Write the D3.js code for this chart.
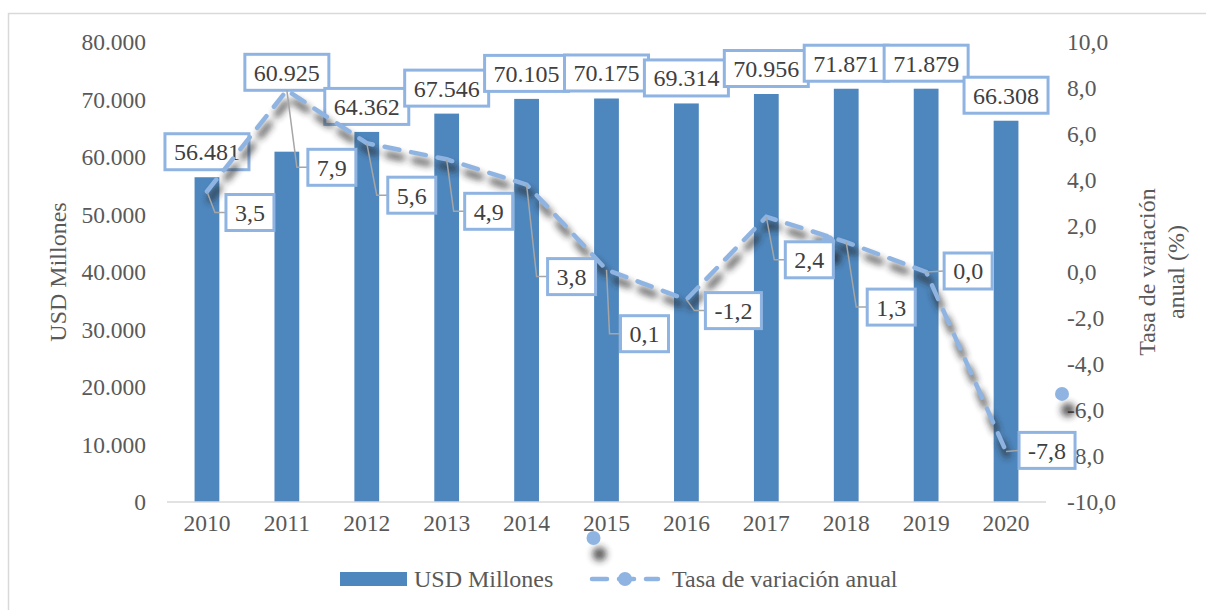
<!DOCTYPE html>
<html>
<head>
<meta charset="utf-8">
<script src="https://cdn.jsdelivr.net/npm/d3@7"></script>
<style>
  body { margin: 0; background: #fff; }
  svg { display: block; }
  svg text { font-family: "Liberation Serif", serif; }
</style>
</head>
<body>
<svg id="chart" width="1206" height="610" font-family="Liberation Serif, serif"></svg>
<script>
"use strict";
const years = ['2010', '2011', '2012', '2013', '2014', '2015', '2016', '2017', '2018', '2019', '2020'];
const usdMillones = [56481, 60925, 64362, 67546, 70105, 70175, 69314, 70956, 71871, 71879, 66308];
const tasaVariacion = [3.5, 7.9, 5.6, 4.9, 3.8, 0.1, -1.2, 2.4, 1.3, 0.0, -7.8];
const usdTicks = [0, 10000, 20000, 30000, 40000, 50000, 60000, 70000, 80000];
const tasaTicks = [-10, -8, -6, -4, -2, 0, 2, 4, 6, 8, 10];

// where Excel dropped the % labels (offset of box from its point)
const tasaLabelDy = [21, 77, 52, 52, 92, 64, 11, 43, 65, -1, -1];
const tasaLabelGap = [19, 21, 21, 18, 21, 14, 19, 19, 21, 18, 13];

const loc = d3.formatLocale({decimal: ',', thousands: '.', grouping: [3], currency: ['', ''], minus: '-'});
const fmtUsd = loc.format(',.0f');
const fmtPct = loc.format('.1f');

const blue = '#4e87be';
const lightBlue = '#8fb4e2';
const grey = '#595959';
const serif = 'Liberation Serif, serif';

const svg = d3.select('#chart');

const defs = svg.append('defs');
defs.append('filter').attr('id', 'blur')
    .attr('filterUnits', 'userSpaceOnUse')
    .attr('x', 0).attr('y', 0).attr('width', 1206).attr('height', 610)
    .append('feGaussianBlur').attr('stdDeviation', 3.5);

// outer frame
svg.append('rect')
    .attr('x', 8.5).attr('y', 13.5).attr('width', 1220).attr('height', 620)
    .attr('fill', 'none').attr('stroke', '#d9d9d9').attr('stroke-width', 1.5);

const x = d3.scaleBand().domain(years).range([167, 1046]).paddingInner(0.69).paddingOuter(0.345);
const yL = d3.scaleLinear().domain([0, 80000]).range([502, 42]);
const yR = d3.scaleLinear().domain([-10, 10]).range([502, 42]);
const cx = (d, i) => x(years[i]) + x.bandwidth() / 2;

// axes
const axL = svg.append('g').attr('transform', 'translate(150,0)')
    .call(d3.axisLeft(yL).tickValues(usdTicks).tickFormat(fmtUsd).tickSize(0).tickPadding(4));
const axR = svg.append('g').attr('transform', 'translate(1063,0)')
    .call(d3.axisRight(yR).tickValues(tasaTicks).tickFormat(fmtPct).tickSize(0).tickPadding(4));
const axB = svg.append('g').attr('transform', 'translate(0,502)')
    .call(d3.axisBottom(x).tickSize(0).tickPadding(12));
[axL, axR, axB].forEach(a => {
    a.attr('font-family', serif).attr('font-size', 23.5);
    a.select('.domain').remove();
    a.selectAll('text').attr('fill', grey);
});

// bars
svg.selectAll('rect.bar')
    .data(usdMillones)
    .enter()
    .append('rect')
    .attr('class', 'bar')
    .attr('x', (d, i) => x(years[i]))
    .attr('y', d => yL(d))
    .attr('width', x.bandwidth())
    .attr('height', d => yL(0) - yL(d))
    .attr('fill', blue);

svg.append('line')
    .attr('x1', 167).attr('x2', 1046).attr('y1', yL(0)).attr('y2', yL(0))
    .attr('stroke', '#d9d9d9').attr('stroke-width', 1.5);

// axis titles
svg.append('text')
    .attr('transform', 'translate(58,' + yL(40000) + ') rotate(-90)')
    .attr('text-anchor', 'middle').attr('dy', '0.35em')
    .attr('font-family', serif).attr('font-size', 24).attr('fill', grey)
    .text('USD Millones');
const rt = svg.append('text')
    .attr('transform', 'translate(1162,' + yR(0) + ') rotate(-90)')
    .attr('text-anchor', 'middle')
    .attr('font-family', serif).attr('font-size', 24).attr('fill', grey);
rt.append('tspan').attr('x', 0).attr('dy', '-0.3em').text('Tasa de variación');
rt.append('tspan').attr('x', 0).attr('dy', '1.2em').text('anual (%)');

// bar labels
const boxH = 36;
usdMillones.forEach((d, i) => {
    const bottom = Math.min(yL(d) - 7.5, yR(tasaVariacion[i]));
    const g = svg.append('g');
    const t = g.append('text')
        .attr('x', cx(d, i)).attr('y', bottom - boxH / 2).attr('dy', '0.35em')
        .attr('text-anchor', 'middle')
        .attr('font-family', serif).attr('font-size', 24).attr('fill', '#404040')
        .text(fmtUsd(d));
    const w = t.node().getComputedTextLength() + 18;
    g.insert('rect', 'text')
        .attr('x', cx(d, i) - w / 2).attr('y', bottom - boxH)
        .attr('width', w).attr('height', boxH)
        .attr('fill', '#fff').attr('stroke', lightBlue).attr('stroke-width', 3);
});

// line with its blurred (dashed) shadow
const line = d3.line()
    .x((d, i) => cx(d, i))
    .y(d => yR(d));
svg.append('path')
    .datum(tasaVariacion)
    .attr('d', line)
    .attr('transform', 'translate(3,8)')
    .attr('fill', 'none').attr('stroke', '#262626').attr('stroke-width', 6)
    .attr('stroke-dasharray', '15,12').attr('stroke-linecap', 'round')
    .attr('opacity', 0.8).attr('filter', 'url(#blur)');
svg.append('path')
    .datum(tasaVariacion)
    .attr('d', line)
    .attr('fill', 'none').attr('stroke', lightBlue).attr('stroke-width', 4.5)
    .attr('stroke-dasharray', '15,12').attr('stroke-linecap', 'round');

// stray markers of the line series
const strays = [
    [cx(0, 8) - 18, yR(tasaVariacion[8])],
    [cx(0, 5) - 13, yL(0) + 36],
    [1063 - 1, yR(-5.3)]
];
strays.forEach(p => {
    svg.append('circle').attr('cx', p[0] + 6).attr('cy', p[1] + 16).attr('r', 7)
        .attr('fill', '#222').attr('opacity', 0.75).attr('filter', 'url(#blur)');
    svg.append('circle').attr('cx', p[0]).attr('cy', p[1]).attr('r', 7).attr('fill', lightBlue);
});

// % labels with leader lines
tasaVariacion.forEach((d, i) => {
    const px = cx(d, i), py = yR(d);
    const left = px + tasaLabelGap[i];
    const cy = py + tasaLabelDy[i];
    const g = svg.append('g');
    const pts = Math.abs(tasaLabelDy[i]) > 4
        ? [[px, py], [left - 11, cy], [left, cy]]
        : [[px, py], [left, cy]];
    g.append('path')
        .attr('d', d3.line()(pts))
        .attr('fill', 'none').attr('stroke', '#a6a6a6').attr('stroke-width', 1.5);
    const t = g.append('text')
        .attr('y', cy).attr('dy', '0.35em')
        .attr('font-family', serif).attr('font-size', 24).attr('fill', '#404040')
        .text(fmtPct(d));
    const w = t.node().getComputedTextLength() + 18;
    t.attr('x', left + 9);
    g.insert('rect', 'text')
        .attr('x', left).attr('y', cy - boxH / 2)
        .attr('width', w).attr('height', boxH)
        .attr('fill', '#fff').attr('stroke', lightBlue).attr('stroke-width', 3);
});

// legend
const lg = svg.append('g').attr('transform', 'translate(0,579)')
    .attr('font-family', serif).attr('font-size', 24);
lg.append('rect').attr('x', 340).attr('y', -7).attr('width', 67).attr('height', 14).attr('fill', blue);
lg.append('text').attr('x', 414).attr('dy', '0.35em').attr('fill', grey)
    .text('USD Millones');
lg.append('line').attr('x1', 592).attr('x2', 658).attr('y1', 0).attr('y2', 0)
    .attr('stroke', lightBlue).attr('stroke-width', 4.5)
    .attr('stroke-dasharray', '15,12').attr('stroke-linecap', 'round');
lg.append('circle').attr('cx', 625).attr('cy', 0).attr('r', 7).attr('fill', lightBlue);
lg.append('text').attr('x', 672).attr('dy', '0.35em').attr('fill', grey)
    .text('Tasa de variación anual');
</script>
</body>
</html>
